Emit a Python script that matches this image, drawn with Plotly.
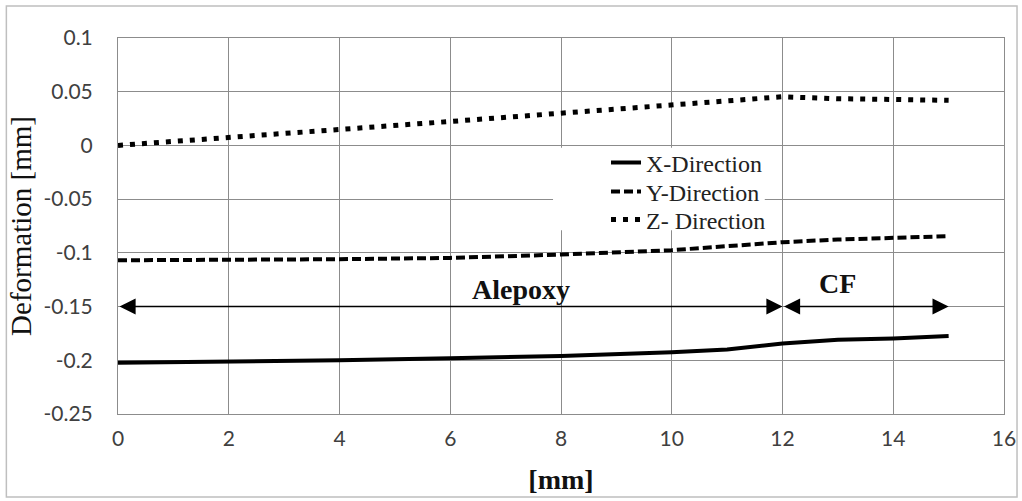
import plotly.graph_objects as go

# ---- data ----
position_mm = [0, 2, 4, 6, 8, 10, 11, 12, 13, 14, 15]
x_direction = [-0.2023, -0.2014, -0.2000, -0.1980, -0.1960, -0.1925, -0.1900, -0.1844, -0.1810, -0.1797, -0.1775]
y_direction = [-0.1069, -0.1067, -0.1059, -0.1047, -0.1016, -0.0975, -0.0940, -0.0901, -0.0876, -0.0860, -0.0845]
z_direction = [0.0, 0.0072, 0.0149, 0.0223, 0.0300, 0.0380, 0.0418, 0.0453, 0.0435, 0.0428, 0.0420]

series_names = ["X-Direction", "Y-Direction", "Z- Direction"]

y_tick_vals = [0.1, 0.05, 0, -0.05, -0.1, -0.15, -0.2, -0.25]
y_tick_text = ["0.1", "0.05", "0", "-0.05", "-0.1", "-0.15", "-0.2", "-0.25"]
x_tick_vals = [0, 2, 4, 6, 8, 10, 12, 14, 16]

region_names = ["Alepoxy", "CF"]
region_start = [0, 12]
region_end = [12, 15]
region_label_x = [7.28, 13.0]
arrow_level = -0.15

# ---- figure ----
fig = go.Figure()
styles = [
    dict(color="black", width=4, dash="solid"),
    dict(color="black", width=4, dash="9px,4px"),
    dict(color="black", width=5, dash="5px,7px"),
]
legend_ids = ["legend", "legend2", "legend3"]
for name, vals, st, lg in zip(series_names, [x_direction, y_direction, z_direction], styles, legend_ids):
    fig.add_trace(go.Scatter(x=position_mm, y=vals, mode="lines", name=name, line=st, legend=lg))

# region arrows and labels
label_shifts = [17, 23]
for name, s, e, lx, sh in zip(region_names, region_start, region_end, region_label_x, label_shifts):
    fig.add_annotation(
        x=e, y=arrow_level, ax=s, ay=arrow_level, xref="x", yref="y", axref="x", ayref="y",
        text="", showarrow=True, arrowhead=2, arrowside="end+start", arrowsize=2.3,
        arrowwidth=1.4, arrowcolor="black", standoff=0, startstandoff=0,
    )
    fig.add_annotation(
        x=lx, y=arrow_level, xref="x", yref="y", text="<b>" + name + "</b>", showarrow=False,
        yshift=sh, font=dict(family="Liberation Serif", size=28, color="#111111"),
    )

# outer frame
fig.add_shape(type="rect", xref="paper", yref="paper", x0=-0.126, x1=1.0147, y0=-0.221, y1=1.085,
              line=dict(color="#bfbfbf", width=1.5), fillcolor="rgba(0,0,0,0)", layer="below")
# white backdrop of the legend block (hides gridlines behind it)
fig.add_shape(type="rect", xref="paper", yref="paper", x0=0.491, x1=0.730, y0=0.489, y1=0.708,
              line=dict(width=0), fillcolor="white", layer="above")

legend_font = dict(family="Liberation Serif", size=24, color="#222222")
legend_rows_y = [0.6676, 0.5904, 0.516]
legend_common = dict(x=0.5508, xanchor="left", yanchor="middle", bgcolor="rgba(0,0,0,0)",
                     borderwidth=0, font=legend_font, itemwidth=30)

fig.update_layout(
    width=1022, height=501,
    margin=dict(l=118, r=18, t=38, b=87),
    paper_bgcolor="white", plot_bgcolor="white",
    showlegend=True,
    legend=dict(y=legend_rows_y[0], **legend_common),
    legend2=dict(y=legend_rows_y[1], **legend_common),
    legend3=dict(y=legend_rows_y[2], **legend_common),
    xaxis=dict(
        range=[0, 16], tickvals=x_tick_vals, showgrid=True, gridcolor="#8c8c8c", gridwidth=1,
        showline=True, linecolor="#8c8c8c", linewidth=1, mirror=True, zeroline=False,
        ticks="", ticklabelstandoff=6, automargin=False,
        tickfont=dict(family="Lato", size=21, color="#404040"),
        title=dict(text="<b>[mm]</b>", font=dict(family="Liberation Serif", size=28, color="#111111"), standoff=20),
    ),
    yaxis=dict(
        range=[-0.25, 0.1], tickvals=y_tick_vals, ticktext=y_tick_text, showgrid=True,
        gridcolor="#8c8c8c", gridwidth=1, showline=True, linecolor="#8c8c8c", linewidth=1,
        mirror=True, zeroline=False, ticks="", ticklabelstandoff=20, automargin=False,
        tickfont=dict(family="Lato", size=21, color="#404040"),
        title=dict(text="Deformation [mm]", font=dict(family="Liberation Serif", size=29, color="#111111"), standoff=3),
    ),
)

fig.write_html("out.html", config={"displayModeBar": False},
               post_script="document.body.style.margin='0';")
